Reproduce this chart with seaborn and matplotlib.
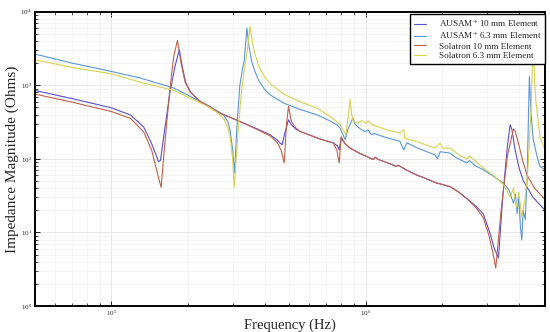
import matplotlib
matplotlib.use("Agg")
import matplotlib.pyplot as plt
import pandas as pd
import seaborn as sns

# ---------------- data ----------------
freq_ausam10 = [5.0e4, 7.0e4, 1.0e5, 1.19e5, 1.34e5, 1.44e5, 1.51e5, 1.53e5, 1.56e5, 1.6e5,
                1.7e5, 1.78e5, 1.85e5, 1.9e5, 1.96e5, 2.04e5, 2.13e5, 2.23e5, 2.45e5,
                2.68e5, 3.21e5, 3.7e5, 4.21e5, 4.47e5, 4.6e5, 4.69e5, 4.8e5, 4.97e5,
                5.1e5, 5.3e5, 5.52e5, 6.5e5, 7.46e5, 7.75e5, 7.86e5, 8.0e5, 8.3e5,
                8.67e5, 9.5e5, 1.07e6, 1.09e6, 1.12e6, 1.2e6, 1.32e6, 1.34e6, 1.45e6,
                1.59e6, 1.7e6, 1.84e6, 1.9e6, 2.14e6, 2.3e6, 2.49e6, 2.7e6, 2.89e6,
                3.07e6, 3.2e6, 3.32e6, 3.45e6, 3.6e6, 3.69e6, 3.75e6, 3.86e6, 4.0e6,
                4.16e6, 4.54e6, 5.06e6]
imp_ausam10 = [850, 660, 494, 394, 272, 162, 106, 92, 95, 180,
               800, 1800, 3040, 1800, 1100, 824, 700, 605, 500,
               417, 321, 260, 212, 182, 165, 155, 220, 339,
               290, 255, 236, 190, 164, 150, 132, 191, 160,
               140, 118, 98, 105, 98, 90, 79, 82, 70,
               60, 55, 49, 47, 42, 36, 29, 23, 18,
               10, 6, 4.5, 30, 150, 290, 250, 132, 75,
               50, 30, 20]

freq_ausam63 = [5.0e4, 7.0e4, 1.0e5, 1.3e5, 1.76e5, 2.38e5, 2.6e5, 2.76e5, 2.87e5, 2.93e5,
                3.0e5, 3.05e5, 3.12e5, 3.2e5, 3.27e5, 3.33e5, 3.41e5, 3.47e5, 3.55e5,
                3.65e5, 3.8e5, 4.0e5, 4.21e5, 4.75e5, 5.5e5, 6.43e5, 7.2e5, 7.7e5,
                7.93e5, 8.3e5, 8.5e5, 8.89e5, 9.1e5, 9.33e5, 9.6e5, 9.94e5, 1.02e6,
                1.05e6, 1.08e6, 1.2e6, 1.36e6, 1.41e6, 1.45e6, 1.6e6, 1.87e6, 1.91e6,
                1.96e6, 2.14e6, 2.25e6, 2.35e6, 2.5e6, 2.55e6, 2.7e6, 2.9e6, 3.17e6,
                3.47e6, 3.65e6, 3.8e6, 3.87e6, 3.93e6, 3.99e6, 4.05e6, 4.1e6, 4.15e6,
                4.23e6, 4.3e6, 4.39e6, 4.46e6, 4.55e6, 4.7e6, 4.83e6, 5.06e6]
imp_ausam63 = [2656, 2000, 1541, 1254, 916, 543, 450, 397, 320, 245,
               130, 64, 300, 1000, 1600, 2200, 6000, 3500, 2200,
               1600, 1150, 880, 740, 573, 470, 397, 330, 290,
               260, 182, 250, 357, 290, 270, 250, 235, 245,
               215, 220, 195, 174, 132, 165, 140, 113, 100,
               125, 120, 105, 97, 88, 95, 80, 71, 58,
               47, 38, 25, 33, 18, 30, 12, 7.9, 20,
               15, 52, 1318, 400, 182, 110, 79, 71]

freq_sol10 = [5.0e4, 7.0e4, 1.0e5, 1.19e5, 1.34e5, 1.44e5, 1.53e5, 1.57e5, 1.62e5, 1.7e5,
              1.76e5, 1.82e5, 1.88e5, 1.95e5, 2.04e5, 2.13e5, 2.23e5, 2.45e5, 2.68e5,
              3.21e5, 3.7e5, 4.21e5, 4.5e5, 4.65e5, 4.78e5, 4.88e5, 4.97e5, 5.1e5,
              5.3e5, 5.52e5, 6.5e5, 7.46e5, 7.7e5, 7.86e5, 8.0e5, 8.3e5, 8.67e5,
              9.5e5, 1.07e6, 1.09e6, 1.12e6, 1.2e6, 1.32e6, 1.34e6, 1.45e6, 1.59e6,
              1.7e6, 1.84e6, 1.9e6, 2.14e6, 2.3e6, 2.49e6, 2.7e6, 2.89e6, 3.05e6,
              3.15e6, 3.24e6, 3.4e6, 3.6e6, 3.8e6, 3.86e6, 4.0e6, 4.15e6, 4.3e6,
              4.6e6, 5.06e6]
imp_sol10 = [760, 590, 440, 355, 233, 132, 57, 41, 150, 900,
             2500, 4070, 2000, 1100, 824, 700, 605, 500, 417,
             321, 255, 205, 165, 130, 88, 300, 515, 320,
             265, 236, 190, 164, 130, 88, 200, 160, 140,
             118, 98, 105, 98, 90, 79, 82, 70, 60,
             55, 49, 47, 42, 36, 29, 22, 16, 9,
             5.5, 3.3, 20, 110, 254, 240, 150, 90, 60,
             40, 28]

freq_sol63 = [5.0e4, 7.0e4, 1.0e5, 1.3e5, 1.76e5, 2.38e5, 2.6e5, 2.76e5, 2.87e5, 2.93e5,
              3.0e5, 3.04e5, 3.12e5, 3.22e5, 3.3e5, 3.4e5, 3.51e5, 3.56e5, 3.65e5,
              3.8e5, 4.0e5, 4.21e5, 4.75e5, 5.5e5, 6.43e5, 7.2e5, 7.7e5, 7.93e5,
              8.35e5, 8.55e5, 8.67e5, 8.8e5, 8.9e5, 9.2e5, 9.7e5, 1.0e6, 1.02e6,
              1.06e6, 1.2e6, 1.36e6, 1.41e6, 1.42e6, 1.6e6, 1.87e6, 1.96e6, 2.0e6,
              2.14e6, 2.35e6, 2.5e6, 2.55e6, 2.9e6, 3.16e6, 3.47e6, 3.7e6, 3.8e6,
              3.9e6, 3.99e6, 4.1e6, 4.23e6, 4.34e6, 4.46e6, 4.54e6, 4.6e6, 4.66e6,
              4.83e6, 5.06e6]
imp_sol63 = [2222, 1750, 1432, 1100, 850, 520, 430, 355, 260, 200,
             96, 41, 150, 600, 1318, 2500, 6300, 4500, 2800,
             1800, 1300, 1050, 760, 600, 490, 380, 320, 290,
             212, 400, 650, 400, 330, 306, 330, 300, 330,
             290, 250, 224, 250, 190, 170, 140, 164, 140,
             140, 110, 100, 110, 75, 60, 45, 30, 40,
             22, 35, 16, 30, 80, 500, 4000, 1200, 600,
             200, 130]

series_names = ["AUSAM$^{+}$ 10 mm Element", "AUSAM$^{+}$ 6.3 mm Element",
                "Solatron 10 mm Element", "Solatron 6.3 mm Element"]
series_colors = ["#5b4fd0", "#5b96d8", "#c0604a", "#d6d24e"]

# ---------------- build table ----------------
frames = []
for name, f, z in zip(series_names,
                      [freq_ausam10, freq_ausam63, freq_sol10, freq_sol63],
                      [imp_ausam10, imp_ausam63, imp_sol10, imp_sol63]):
    frames.append(pd.DataFrame({"freq": f, "imp": z, "series": name}))
df = pd.concat(frames, ignore_index=True)

sns.set_theme(style="ticks")
plt.rcParams['font.family'] = ['Liberation Serif', 'DejaVu Serif']
plt.rcParams['mathtext.fontset'] = 'stix'

fig = plt.figure(figsize=(5.5, 3.32), dpi=100)
ax = fig.add_axes([0.063, 0.078, 0.928, 0.887])
ax.set_xscale('log')
ax.set_yscale('log')

sns.lineplot(data=df, x="freq", y="imp", hue="series", hue_order=series_names,
             palette=series_colors, estimator=None, sort=False, linewidth=0.8,
             ax=ax, legend=True)

ax.set_xlim(5.0e4, 5.06e6)
ax.set_ylim(1, 1e4)

ax.grid(True, which='major', color='#dcdcdc', linewidth=0.5)
ax.grid(True, which='minor', color='#ececec', linewidth=0.4)
ax.set_axisbelow(True)

for s in ax.spines.values():
    s.set_linewidth(1.4)
    s.set_color('black')

ax.tick_params(which='both', direction='in', top=True, right=True, labelsize=5,
               color='black', pad=2)
ax.tick_params(which='major', length=3.5, width=0.6)
ax.tick_params(which='minor', length=2, width=0.5)

ax.set_xlabel("Frequency (Hz)", fontsize=10.5, labelpad=0)
ax.set_ylabel("Impedance Magnitude (Ohms)", fontsize=11, labelpad=1)

handles, labels = ax.get_legend_handles_labels()
leg = ax.legend(handles, labels, loc='upper right', bbox_to_anchor=(1.0, 0.992),
                fontsize=6.6, frameon=True, fancybox=False, edgecolor='black',
                framealpha=1, handlelength=1.3, handletextpad=1.4,
                labelspacing=0.1, borderpad=0.4, borderaxespad=0.0, title=None)
leg.get_frame().set_linewidth(1.0)
for lh in leg.get_lines():
    lh.set_linewidth(0.8)

fig.savefig("out.png", dpi=100)
